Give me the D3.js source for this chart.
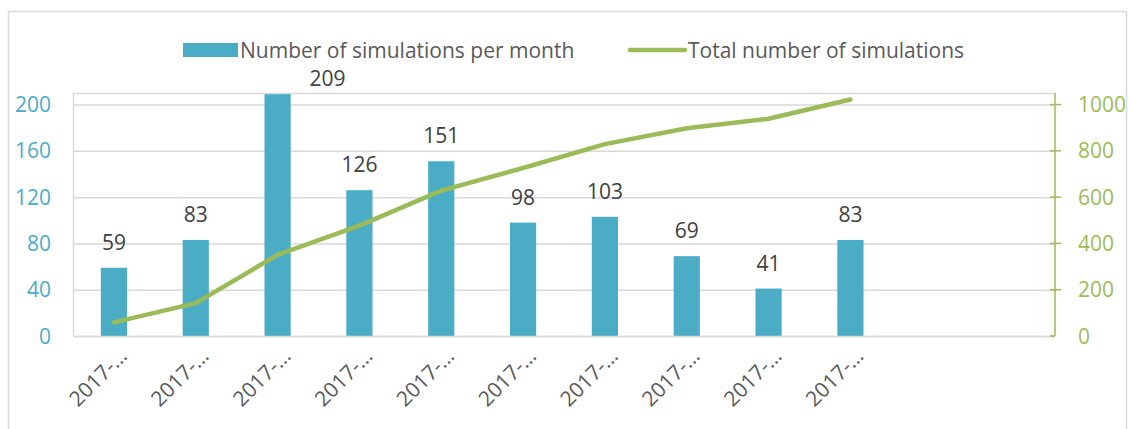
<!DOCTYPE html>
<html lang="en">
<head>
<meta charset="UTF-8">
<title>Simulations per month</title>
<script src="https://cdn.jsdelivr.net/npm/d3@7"></script>
<style>
body { margin: 0; background: #fff; font-family: 'Open Sans', sans-serif; }
svg text { font-family: 'Open Sans', sans-serif; }
</style>
</head>
<body>
<svg id="chart" width="1130" height="429"></svg>
<script>
// chart data
const categories = ["2017-…", "2017-…", "2017-…", "2017-…", "2017-…",
                    "2017-…", "2017-…", "2017-…", "2017-…", "2017-…", "", ""];
const monthly = [59, 83, 209, 126, 151, 98, 103, 69, 41, 83];
const total = [59, 142, 351, 477, 628, 726, 829, 898, 939, 1022];
const leftTicks = [0, 40, 80, 120, 160, 200];
const rightTicks = [0, 200, 400, 600, 800, 1000];

const blue = "#4BACC6", green = "#9BBB59", grid = "#D9D9D9";
const fs = 21;

const svg = d3.select("#chart");
const plot = { left: 73, right: 1055, top: 93, bottom: 336 };

// outer chart frame
svg.append("rect")
    .attr("x", 8.5).attr("y", 11.5)
    .attr("width", 1118).attr("height", 430)
    .attr("fill", "none").attr("stroke", "#D9D9D9").attr("stroke-width", 1.5);

const x = d3.scaleBand()
    .domain(d3.range(categories.length))
    .range([plot.left, plot.right])
    .paddingInner(0.68).paddingOuter(0.34);

const y = d3.scaleLinear().domain([0, 210]).range([plot.bottom, plot.top]);
const y2 = d3.scaleLinear().domain([0, 1050]).range([plot.bottom, plot.top]);

// gridlines
svg.append("g").selectAll("line").data(leftTicks).join("line")
    .attr("x1", plot.left).attr("x2", plot.right)
    .attr("y1", d => y(d) + 0.5).attr("y2", d => y(d) + 0.5)
    .attr("stroke", grid).attr("stroke-width", 1.5);

// plot area frame (top and left)
svg.append("path")
    .attr("d", `M${plot.left + 0.5},${plot.bottom}V${plot.top + 0.5}H${plot.right}`)
    .attr("fill", "none").attr("stroke", grid).attr("stroke-width", 1.5);

// left axis labels
svg.append("g").selectAll("text").data(leftTicks).join("text")
    .attr("x", 51).attr("y", d => y(d))
    .attr("dy", "0.36em")
    .attr("text-anchor", "end")
    .attr("font-size", fs).attr("fill", blue)
    .text(d => d);

// bars
svg.append("g").selectAll("rect").data(monthly).join("rect")
    .attr("x", (d, i) => x(i))
    .attr("y", d => y(d))
    .attr("width", x.bandwidth())
    .attr("height", d => y(0) - y(d))
    .attr("fill", blue);

// bar value labels; the one that would leave the plot is nudged aside
svg.append("g").selectAll("text").data(monthly).join("text")
    .attr("x", (d, i) => x(i) + x.bandwidth() / 2 + (y(d) - 18 < plot.top - 7 ? 50 : 0))
    .attr("y", d => Math.max(y(d) - 18, plot.top - 7))
    .attr("text-anchor", "middle")
    .attr("font-size", fs).attr("fill", "#404040")
    .text(d => d);

// cumulative line
const line = d3.line()
    .x((d, i) => x(i) + x.bandwidth() / 2)
    .y(d => y2(d));

svg.append("path")
    .datum(total)
    .attr("d", line)
    .attr("fill", "none").attr("stroke", green)
    .attr("stroke-width", 4.5)
    .attr("stroke-linecap", "round").attr("stroke-linejoin", "round");

// bottom axis line
svg.append("line")
    .attr("x1", plot.left).attr("x2", plot.right)
    .attr("y1", plot.bottom + 0.5).attr("y2", plot.bottom + 0.5)
    .attr("stroke", grid).attr("stroke-width", 1.5);

// right axis
const ra = svg.append("g");
ra.append("line")
    .attr("x1", plot.right).attr("x2", plot.right)
    .attr("y1", plot.top).attr("y2", plot.bottom)
    .attr("stroke", green).attr("stroke-width", 1.5);
ra.selectAll("line.tick").data(rightTicks).join("line")
    .attr("class", "tick")
    .attr("x1", plot.right - 5).attr("x2", d => d === 0 ? plot.right : plot.right + 6)
    .attr("y1", d => y2(d)).attr("y2", d => y2(d))
    .attr("stroke", green).attr("stroke-width", 1.5);
ra.selectAll("text").data(rightTicks).join("text")
    .attr("x", 1078).attr("y", d => y2(d))
    .attr("dy", "0.36em")
    .attr("font-size", fs).attr("fill", green)
    .text(d => d);

// x labels, rotated
svg.append("g").selectAll("text").data(categories).join("text")
    .attr("transform", (d, i) => `translate(${x(i) + x.bandwidth() / 2 + 9},${plot.bottom + 16}) rotate(-45)`)
    .attr("text-anchor", "end")
    .attr("dy", "0.36em")
    .attr("font-size", fs).attr("fill", "#595959")
    .text(d => d);

// legend
const legend = svg.append("g").attr("font-size", fs).attr("fill", "#595959");
legend.append("rect")
    .attr("x", 183).attr("y", 43).attr("width", 55).attr("height", 14)
    .attr("fill", blue);
legend.append("text")
    .attr("x", 240).attr("y", 50).attr("dy", "0.36em")
    .text("Number of simulations per month");
legend.append("line")
    .attr("x1", 630).attr("x2", 685).attr("y1", 50).attr("y2", 50)
    .attr("stroke", green).attr("stroke-width", 4.5).attr("stroke-linecap", "round");
legend.append("text")
    .attr("x", 688).attr("y", 50).attr("dy", "0.36em")
    .text("Total number of simulations");
</script>
</body>
</html>
